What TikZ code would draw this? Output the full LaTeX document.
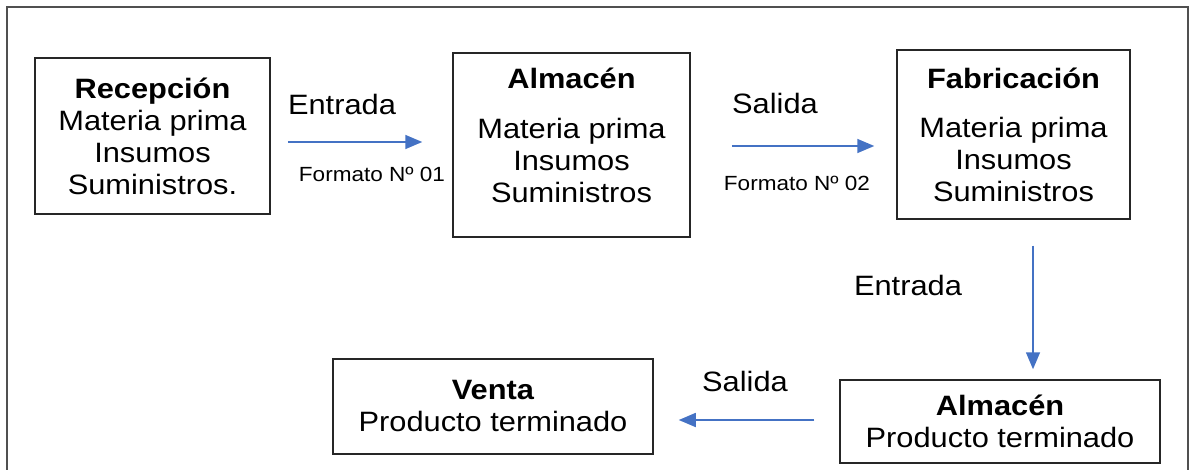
\documentclass[tikz,border=0pt]{standalone}
\usepackage{fontspec}
\setmainfont{Liberation Sans}[FakeStretch=1.1]
\usetikzlibrary{arrows.meta}
\definecolor{flujo}{RGB}{68,114,196}
\definecolor{marco}{RGB}{80,80,80}

\begin{document}
\begin{tikzpicture}[x=1pt,y=-1pt,
  font=\fontsize{28}{32}\selectfont,
  caja/.style={draw=black!85,line width=1.5pt,align=center,inner sep=0pt},
  flecha/.style={draw=flujo,line width=1.6pt,-{Triangle[length=17pt,width=14pt]}},
  nota/.style={font=\fontsize{20.5}{24}\selectfont}]
\useasboundingbox (0,0) rectangle (1196,470);
\draw[marco,line width=1.8pt] (7,472) -- (7,7) -- (1188,7) -- (1188,472);

\node(rec)[caja,minimum width=235pt,minimum height=156pt] at (152.5,136) {\textbf{Recepción}\\Materia prima\\Insumos\\Suministros.};
\node(alm1)[caja,minimum width=237pt,minimum height=184pt] at (571.5,145) {\textbf{Almacén}\\[18pt]Materia prima\\Insumos\\Suministros\\[-12pt]\mbox{}};
\node(fab)[caja,minimum width=233pt,minimum height=169pt] at (1013.5,134.5) {\textbf{Fabricación}\\[17pt]Materia prima\\Insumos\\Suministros};
\node(almpt)[caja,minimum width=320pt,minimum height=83pt] at (1000,421.5) {\textbf{Almacén}\\Producto terminado};
\node(venta)[caja,minimum width=320pt,minimum height=95pt] at (493,406.5) {\textbf{Venta}\\Producto terminado};

%\node(ent1)[nota] at (342,104) {Entrada};
\node(ent1) at (342,104) {Entrada};
\node(f1)[nota] at (372,174) {Formato Nº 01};
\node(sal1) at (775,103) {Salida};
\node(f2)[nota] at (797,183) {Formato Nº 02};
\node(ent2) at (908,285) {Entrada};
\node(sal2) at (745,381) {Salida};

\draw[flecha] ([xshift=17pt,yshift=-6pt]rec.east) -- ([xshift=-30pt,yshift=-6pt]rec.east -| alm1.west);
\draw[flecha] ([xshift=41pt,yshift=-1pt]alm1.east) -- ([xshift=-22pt,yshift=-1pt]alm1.east -| fab.west);
\draw[flecha] ([xshift=19.5pt,yshift=-26pt]fab.south) -- ([xshift=19.5pt,yshift=10pt]fab.south |- almpt.north);
\draw[flecha] ([xshift=-25pt,yshift=1.5pt]almpt.west) -- ([xshift=25pt,yshift=1.5pt]almpt.west -| venta.east);

\end{tikzpicture}
\end{document}
